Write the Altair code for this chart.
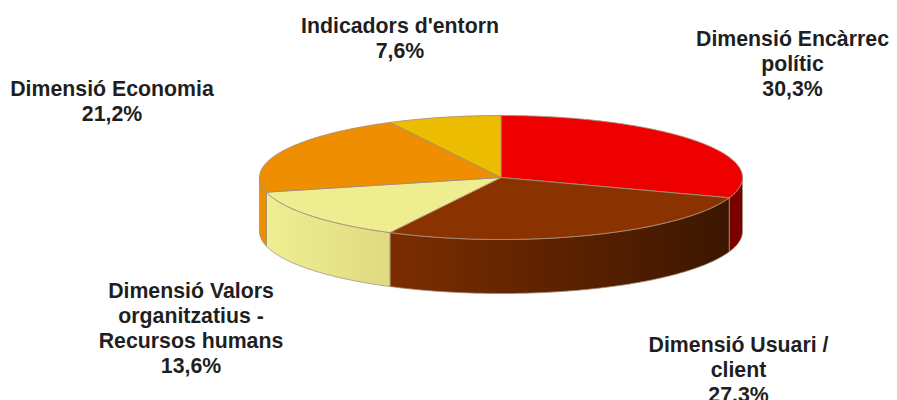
import math
import altair as alt

# --- data ---
CATEGORIES = ["Dimensió Encàrrec\npolític", "Dimensió Usuari /\nclient",
              "Dimensió Valors\norganitzatius -\nRecursos humans",
              "Dimensió Economia", "Indicadors d'entorn"]
VALUES = [30.3, 27.3, 13.6, 21.2, 7.6]
PCT_LABELS = ["30,3%", "27,3%", "13,6%", "21,2%", "7,6%"]

# --- styling / layout ---
W, H = 881, 392
CX, CY, RX, RY, DEPTH = 493.0, 169.5, 241.5, 62.0, 54.0
TOP_COLORS = ["#ee0000", "#8b3300", "#eeee90", "#ee8e00", "#ecbc00"]
SIDE_STOPS = [["#7a0000", "#7a0000"], ["#7c2d00", "#3c1600"],
              ["#eeee92", "#e0da80"], ["#ee8e00", "#ee8e00"], ["#ecbc00", "#ecbc00"]]
EDGE = "#a58f78"
LABEL_ANCHORS = [(784.5, 20.5), (730.5, 326.5), (183, 273), (104, 70.5), (392, 7.5)]


def pt(deg, dy=0.0):
    a = math.radians(deg)
    return [CX + RX * math.sin(a), CY - RY * math.cos(a) + dy]


def arc(a0, a1, dy=0.0):
    n = max(2, int(abs(a1 - a0)) * 2)
    return [pt(a0 + (a1 - a0) * i / n, dy) for i in range(n + 1)]


def feature(ring):
    ring = ring + [ring[0]]
    return {"type": "Feature", "properties": {},
            "geometry": {"type": "Polygon", "coordinates": [ring]}}


frame = feature([[0, 0], [W, 0], [W, H], [0, H]])
layers = [alt.Chart(alt.Data(values=[frame])).mark_geoshape(opacity=0, stroke=None).project(type="identity", scale=1, translate=[0, 0])]

edges = []
c = 0.0
total = sum(VALUES)
for v in VALUES:
    edges.append((c / total * 360, (c + v) / total * 360))
    c += v

# sides: only the front half of the rim is visible
sides = []
for i, (a0, a1) in enumerate(edges):
    lo, hi = max(a0, 90), min(a1, 270)
    if lo < hi:
        sides.append((i, lo, hi))
for i, lo, hi in sides:
    ring = arc(lo, hi) + arc(hi, lo, DEPTH)
    fill = alt.LinearGradient(
        gradient="linear", x1=0, x2=1, y1=0, y2=0,
        stops=[alt.GradientStop(offset=0, color=SIDE_STOPS[i][0]),
               alt.GradientStop(offset=1, color=SIDE_STOPS[i][1])])
    layers.append(alt.Chart(alt.Data(values=[feature(ring)])).mark_geoshape(
        fill=fill, stroke=EDGE, strokeWidth=0.8).project(type="identity", scale=1, translate=[0, 0]))

# top face
for i, (a0, a1) in enumerate(edges):
    ring = [[CX, CY]] + arc(a0, a1)
    layers.append(alt.Chart(alt.Data(values=[feature(ring)])).mark_geoshape(
        fill=TOP_COLORS[i], stroke=EDGE, strokeWidth=0.9).project(type="identity", scale=1, translate=[0, 0]))

rows = [{"t": f"{cat}\n{p}", "x": ax, "y": ay}
        for cat, p, (ax, ay) in zip(CATEGORIES, PCT_LABELS, LABEL_ANCHORS)]
text = alt.Chart(alt.Data(values=rows)).mark_text(
    font="Liberation Sans", fontWeight="bold", fontSize=21.3, color="#1f1f1f",
    align="center", baseline="top", lineBreak="\n", lineHeight=25
).encode(x=alt.X("x:Q", scale=None), y=alt.Y("y:Q", scale=None), text="t:N")
layers.append(text)

chart = alt.layer(*layers).properties(
    width=W, height=H, padding=0, autosize=alt.AutoSizeParams(type="none")
).resolve_scale(x="independent", y="independent").configure_view(stroke=None)
chart.save("out.html", embed_options={"renderer": "svg", "actions": False})
